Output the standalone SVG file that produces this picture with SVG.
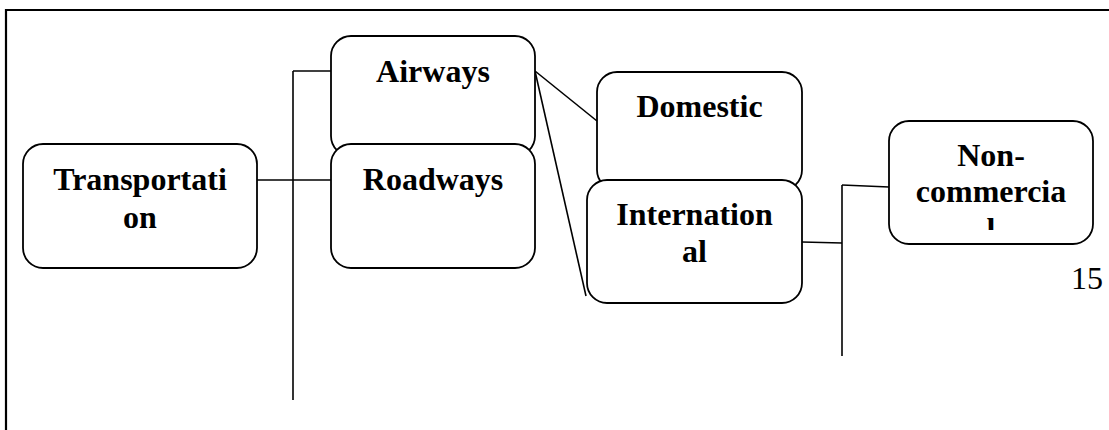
<svg xmlns="http://www.w3.org/2000/svg" width="1109" height="430" viewBox="0 0 1109 430">
<style>
.box{fill:#fff;stroke:#000;stroke-width:1.8}
.lbl{font-family:"Liberation Serif","Times New Roman",serif;font-size:32px;font-weight:bold;fill:#000;text-anchor:middle}
.c{stroke:#000;stroke-width:1.6;fill:none}
.pg{font-family:"Liberation Serif","Times New Roman",serif;font-size:32px;fill:#000}
</style>
<defs>
<clipPath id="ncclip"><rect x="889" y="120" width="205" height="110"/></clipPath>
</defs>
<g id="frame">
<path d="M6 430 V10 H1109" fill="none" stroke="#000" stroke-width="2.2"/>
</g>
<g id="connectors">
<line class="c" x1="257" y1="180" x2="331" y2="180"/>
<line class="c" x1="293" y1="71" x2="293" y2="400"/>
<line class="c" x1="293" y1="71" x2="331" y2="71"/>
<line class="c" x1="535" y1="71" x2="597" y2="121"/>
<line class="c" x1="535" y1="71" x2="586" y2="296"/>
<line class="c" x1="802" y1="242" x2="842" y2="243"/>
<line class="c" x1="842" y1="185" x2="842" y2="356"/>
<line class="c" x1="842" y1="185" x2="889" y2="187"/>
</g>
<g id="transportation">
<rect class="box" x="23" y="144" width="234" height="124" rx="20"/>
<text class="lbl" x="140" y="190">Transportati</text>
<text class="lbl" x="140" y="228">on</text>
</g>
<g id="airways">
<rect class="box" x="331" y="36" width="204" height="120" rx="20"/>
<text class="lbl" x="433" y="82">Airways</text>
</g>
<g id="roadways">
<rect class="box" x="331" y="144" width="204" height="124" rx="20"/>
<text class="lbl" x="433" y="190">Roadways</text>
</g>
<g id="domestic">
<rect class="box" x="597" y="72" width="205" height="118" rx="20"/>
<text class="lbl" x="699.5" y="117">Domestic</text>
</g>
<g id="international">
<rect class="box" x="587" y="180" width="215" height="123" rx="20"/>
<text class="lbl" x="694.5" y="225">Internation</text>
<text class="lbl" x="694.5" y="262">al</text>
</g>
<g id="noncommercial">
<rect class="box" x="889" y="121" width="204" height="123" rx="20"/>
<text class="lbl" x="991" y="166">Non-</text>
<text class="lbl" x="991" y="202">commercia</text>
<text class="lbl" x="991" y="240" clip-path="url(#ncclip)">l</text>
</g>
<g id="pagenum">
<text class="pg" x="1071" y="289">15</text>
</g>
</svg>
